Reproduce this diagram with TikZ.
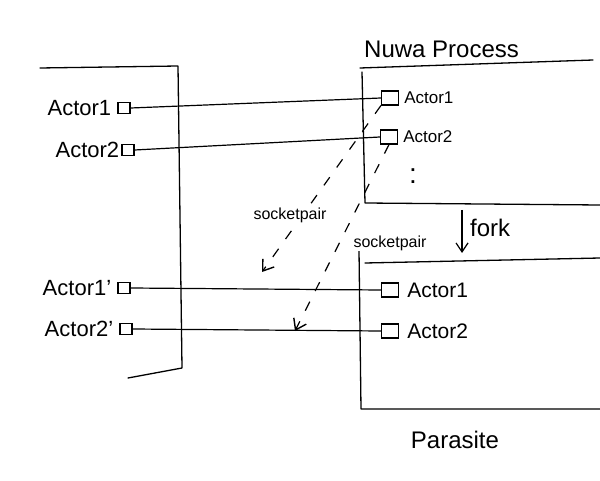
\documentclass[tikz,border=0pt]{standalone}
\usepackage{fontspec}
\setmainfont{Liberation Sans}
\usetikzlibrary{arrows.meta}
\tikzset{
        wall/.style={line width=1.3pt, line cap=round, line join=round},
        port/.style={draw=black, line width=1.2pt, minimum width=12pt, minimum height=11pt, inner sep=0pt},
        bigport/.style={port, minimum width=17pt, minimum height=14pt},
        wire/.style={line width=1.2pt},
        pair/.style={line width=1.2pt, dash pattern=on 10pt off 12pt, -{Straight Barb[length=10pt,width=14pt,line width=1.4pt]}},
        forkarrow/.style={line width=1.2pt, -{Straight Barb[length=9pt,width=12pt]}},
        hostlabel/.style={font=\fontsize{22}{24}\selectfont, inner sep=0pt, anchor=east},
        nuwalabel/.style={font=\fontsize{17}{19}\selectfont, inner sep=0pt, anchor=west},
        paralabel/.style={font=\fontsize{21}{23}\selectfont, inner sep=0pt, anchor=west},
        pairlabel/.style={font=\fontsize{16}{18}\selectfont, inner sep=1pt, fill=white},
        title/.style={font=\fontsize{24}{26}\selectfont, inner sep=0pt}
          }
\begin{document}
\begin{tikzpicture}[x=1pt, y=-1pt]
        \useasboundingbox (0,0) rectangle (600,481);
        % host process
        \draw[wall] (40,68) -- (178,66) -- (182,368) -- (128,378);
        \node[port] (h1) at (124,108) {};
        \node[port] (h2) at (128,150) {};
        \node[port] (h3) at (124,288) {};
        \node[port] (h4) at (126,329) {};
        \node[hostlabel] (h1l) at ([xshift=-6pt]h1.west) {Actor1};
        \node[hostlabel] (h2l) at ([xshift=-2pt]h2.west) {Actor2};
        \node[hostlabel] (h3l) at ([xshift=-6pt]h3.west) {Actor1'};
        \node[hostlabel] (h4l) at ([xshift=-6pt]h4.west) {Actor2'};
        % nuwa process
        \node[title, anchor=south west] (nuwa) at (364,58) {Nuwa Process};
        \draw[wall] (360,68) -- (593,60);
        \draw[wall] (362,72) -- (365,203) -- (600,205);
        \node[bigport] (n1) at (390,98) {};
        \node[bigport] (n2) at (389,137) {};
        \node[nuwalabel] (n1l) at ([xshift=5pt]n1.east) {Actor1};
        \node[nuwalabel] (n2l) at ([xshift=5pt]n2.east) {Actor2};
        \node[nuwalabel, anchor=center, font=\fontsize{28}{30}\selectfont] (ndots) at (413,176) {:};
        % parasite
        \draw[wall] (365,263) -- (600,258);
        \draw[wall] (359,250) -- (361,409) -- (600,409);
        \node[title] (parasite) at (455,440) {Parasite};
        \node[bigport] (p1) at (390,290) {};
        \node[bigport] (p2) at (390,331) {};
        \node[paralabel] (p1l) at ([xshift=8pt]p1.east) {Actor1};
        \node[paralabel] (p2l) at ([xshift=8pt]p2.east) {Actor2};
        % wires
        \draw[wire] (h1.east) -- (n1.west);
        \draw[wire] (h2.east) -- (n2.west);
        \draw[wire] (h3.east) -- (p1.west);
        \draw[wire] (h4.east) -- (p2.west);
        % socketpairs
        \coordinate (endA) at (262,272);
        \coordinate (endB) at (295,331);
        \draw[pair] (n1.south west) -- (endA);
        \draw[pair] (n2.south) -- (endB);
        \node[pairlabel] (sp1) at (290,215) {socketpair};
        \node[pairlabel] (sp2) at (390,243) {socketpair};
        % fork
        \coordinate (forktop) at (462,210);
        \coordinate (forkbot) at (462,253);
        \draw[forkarrow] (forktop) -- (forkbot);
        \node[title, anchor=west] (forkl) at (470,228) {fork};
\end{tikzpicture}
\end{document}
